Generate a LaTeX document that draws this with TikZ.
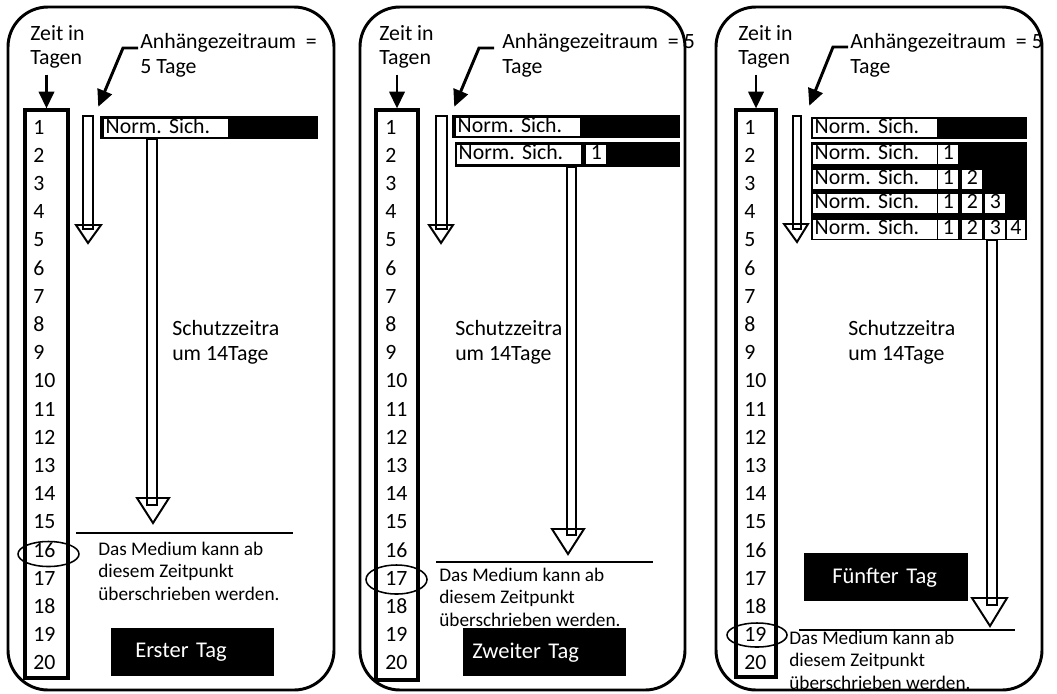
\documentclass[tikz,border=0pt]{standalone}
\usepackage{fontspec}
\setmainfont{Carlito}
\frenchspacing
\usepackage{tikz}
\usetikzlibrary{arrows.meta,positioning,shapes,fit,calc}

\begin{document}
\begin{tikzpicture}[x=0.025cm, y=-0.025cm,
    frame/.style={draw, line width=2.1pt, rounded corners=1cm},
    colbox/.style={draw, line width=2.2pt, inner sep=0pt},
    num/.style={anchor=west, inner sep=0pt, font=\fontsize{15.5}{17}\selectfont},
    lbl/.style={anchor=west, align=left, inner sep=0pt, font=\fontsize{15.5}{17.5}\selectfont},
    note/.style={anchor=west, align=left, inner sep=0pt, font=\fontsize{13.7}{16}\selectfont},
    arrow/.style={-{Triangle[length=4.2mm, width=3.8mm]}, line width=2.1pt},
    bar/.style={fill=black, inner sep=0pt},
    sich/.style={anchor=west, fill=white, inner xsep=1pt, inner ysep=0.5pt,
                 text height=10pt, text depth=2.5pt, text width=3.03cm, align=left,
                 font=\fontsize{15.5}{17}\selectfont},
    cell/.style={anchor=west, fill=white, inner xsep=0pt, inner ysep=0.5pt,
                 text height=10pt, text depth=2.5pt, minimum width=0.5cm,
                 font=\fontsize{15.5}{17}\selectfont},
    shaft/.style={draw, line width=1.8pt, inner sep=0pt},
    head/.style={draw, line width=1.4pt, line join=miter},
    endline/.style={line width=2.1pt},
    ring/.style={draw, ellipse, line width=1.1pt, inner sep=0pt},
    daybox/.style={anchor=north west, fill=black, text=white, align=left,
                   inner ysep=0pt, minimum height=1.2cm, font=\fontsize{16}{18}\selectfont}
]
    \useasboundingbox (0,0) rectangle (1057,693);

    % Frames
    \draw[frame] (8,7) rectangle (334,690);
    \draw[frame] (360,7) rectangle (685,690);
    \draw[frame] (716,7) rectangle (1042,690);

    % Day columns
    \node[colbox, fit={(25,110) (68,678)}] (a-col) {};
    \node[colbox, fit={(376,110) (418,680)}] (b-col) {};
    \node[colbox, fit={(736,110) (776,677)}] (c-col) {};
    \foreach \p/\x in {a/33, b/385, c/744} {
        \foreach \n in {1,...,20}
            \node[num] (\p-n\n) at (\x, {127+28.2*(\n-1)}) {\n};
    }

    % Erster Tag
    \node[lbl] (a-zeit) at (30,47) {Zeit in\\Tagen};
    \draw[arrow, shorten <=4pt] (a-col.north |- a-zeit.south) -- (a-col.north);
    \node[lbl] (a-anh) at (140,55) {Anhängezeitraum \ =\\5 Tage};
    \node[shaft, fit={(83,116) (93,229)}] (a-slot) {};
    \draw[head] (76,225) -- (88,243) -- (101,225) -- cycle;
    \draw[arrow] ([shift={(-2,-7)}]a-anh.west) -- ++(-15,0) -- ([shift={(4,-8)}]a-slot.north east);
    \node[bar, fit={(100,116) (318,139)}] (a-bar1) {};
    \node[sich] (a-sich1) at (104,128) {Norm. Sich.};
    \node[shaft, fit={(147,139) (157,505)}] (a-shaft) {};
    \draw[head] (137,498) -- (153,523) -- (169,498) -- cycle;
    \node[lbl] (a-schutz) at (172,342) {Schutzzeitra\\um 14Tage};
    \draw[endline] (76,533) -- (293,533);
    \node[ring, minimum width=1.525cm, minimum height=0.625cm] (a-ring) at (48.5,554) {};
    \node[note] (a-note) at (98,571) {Das Medium kann ab\\diesem Zeitpunkt\\überschrieben werden.};
    \node[daybox, text width=2.875cm, inner xsep=0.6cm] (a-day) at (111,628) {Erster Tag};

    % Zweiter Tag
    \node[lbl] (b-zeit) at (379,47) {Zeit in\\Tagen};
    \draw[arrow, shorten <=4pt] (b-col.north |- b-zeit.south) -- (b-col.north);
    \node[lbl] (b-anh) at (502,55) {Anhängezeitraum \ = 5\\Tage};
    \node[shaft, fit={(436,116) (447,229)}] (b-slot) {};
    \draw[head] (429,225) -- (441,243) -- (453,225) -- cycle;
    \draw[arrow] ([shift={(-8,-7)}]b-anh.west) -- ++(-15,0) -- ([shift={(6,-8)}]b-slot.north east);
    \node[bar, fit={(452,115) (680,138)}] (b-bar1) {};
    \node[sich] (b-sich1) at (456,127) {Norm. Sich.};
    \node[bar, fit={(455,142) (680,167)}] (b-bar2) {};
    \node[sich] (b-sich2) at (457,154.5) {Norm. Sich.};
    \node[cell] (b-c21) at (586,154.5) {1};
    \node[shaft, fit={(567,167) (576,535)}] (b-shaft) {};
    \draw[head] (552,529) -- (568,554) -- (584,529) -- cycle;
    \node[lbl] (b-schutz) at (455,342) {Schutzzeitra\\um 14Tage};
    \draw[endline] (436,562) -- (653,562);
    \node[ring, minimum width=1.525cm, minimum height=0.725cm] (b-ring) at (396.5,579.5) {};
    \node[note] (b-note) at (439,597) {Das Medium kann ab\\diesem Zeitpunkt\\überschrieben werden.};
    \node[daybox, text width=3.625cm, inner xsep=0.225cm] (b-day) at (463,628) {Zweiter Tag};

    % Fünfter Tag
    \node[lbl] (c-zeit) at (738,47) {Zeit in\\Tagen};
    \draw[arrow, shorten <=4pt] (c-col.north |- c-zeit.south) -- (c-col.north);
    \node[lbl] (c-anh) at (850,55) {Anhängezeitraum \ = 5\\Tage};
    \node[shaft, fit={(793,116) (801,229)}] (c-slot) {};
    \draw[head] (784,224) -- (797,242) -- (808,224) -- cycle;
    \draw[arrow] ([shift={(-2,-8)}]c-anh.west) -- ++(-15,0) -- ([shift={(7,-9)}]c-slot.north east);
    \node[bar, fit={(811,117) (1027,139)}] (c-bar1) {};
    \node[sich] (c-sich1) at (813,128) {Norm. Sich.};
    \node[bar, fit={(811,142) (1027,166)}] (c-bar2) {};
    \node[bar, fit={(811,166) (1027,191)}] (c-bar3) {};
    \node[bar, fit={(811,191) (1027,216)}] (c-bar4) {};
    \node[bar, fit={(811,216) (1027,240)}] (c-bar5) {};
    \node[sich] (c-sich2) at (813,154) {Norm. Sich.};
    \node[sich] (c-sich3) at (813,179) {Norm. Sich.};
    \node[sich] (c-sich4) at (813,203) {Norm. Sich.};
    \node[sich] (c-sich5) at (813,229) {Norm. Sich.};
    \node[cell] (c-c21) at (938,154) {1};
    \node[cell] (c-c31) at (938,179) {1};
    \node[cell] (c-c32) at (962,179) {2};
    \node[cell] (c-c41) at (938,203) {1};
    \node[cell] (c-c42) at (962,203) {2};
    \node[cell] (c-c43) at (985,203) {3};
    \node[cell] (c-c51) at (938,229) {1};
    \node[cell] (c-c52) at (962,229) {2};
    \node[cell] (c-c53) at (985,229) {3};
    \node[cell, minimum width=0.43cm] (c-c54) at (1007,229) {4};
    \node[shaft, fit={(987,240) (997,605)}] (c-shaft) {};
    \draw[head] (972,598) -- (990,626) -- (1007,598) -- cycle;
    \node[lbl] (c-schutz) at (848,342) {Schutzzeitra\\um 14Tage};
    \node[daybox, text width=2.7cm, inner xsep=0.7cm] (c-day) at (804,553) {Fünfter Tag};
    \draw[endline] (799,630) -- (1015,630);
    \node[ring, minimum width=1.5cm, minimum height=0.6cm] (c-ring) at (757,635) {};
    \node[note] (c-note) at (789,660) {Das Medium kann ab\\diesem Zeitpunkt\\überschrieben werden.};
\end{tikzpicture}
\end{document}
